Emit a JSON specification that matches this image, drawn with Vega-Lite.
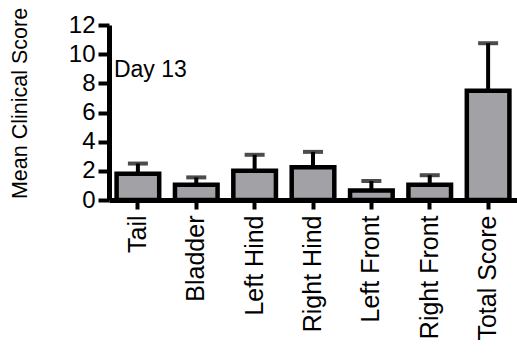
{
  "$schema": "https://vega.github.io/schema/vega-lite/v6.json",
  "autosize": "none",
  "width": 408,
  "height": 175,
  "padding": {"left": 109, "top": 25, "right": 0, "bottom": 156},
  "background": "white",
  "config": {
    "view": {"stroke": null},
    "font": "Liberation Sans",
    "axis": {"grid": false, "domainColor": "black", "domainWidth": 5, "tickColor": "black", "tickWidth": 4, "labelColor": "black", "titleColor": "black", "labelFont": "Liberation Sans", "titleFont": "Liberation Sans", "titleFontWeight": "normal"}
  },
  "data": {"values": [
    {"region": "Tail", "mean": 1.8, "upper": 2.5},
    {"region": "Bladder", "mean": 1.05, "upper": 1.55},
    {"region": "Left Hind", "mean": 2.0, "upper": 3.1},
    {"region": "Right Hind", "mean": 2.25, "upper": 3.3},
    {"region": "Left Front", "mean": 0.65, "upper": 1.3},
    {"region": "Right Front", "mean": 1.05, "upper": 1.7},
    {"region": "Total Score", "mean": 7.5, "upper": 10.75}
  ]},
  "encoding": {
    "x": {"field": "region", "type": "nominal", "sort": null,
      "scale": {"paddingInner": 0.27, "paddingOuter": 0.13},
      "axis": {"title": null, "labelAngle": -90, "labelFontSize": 25, "tickSize": 9, "domainWidth": 5, "labelPadding": 6, "labelAlign": "right", "labelBaseline": "middle"}},
    "y": {"field": "mean", "type": "quantitative",
      "scale": {"domain": [0, 12], "nice": false},
      "axis": {"title": "Mean Clinical Score", "values": [0, 2, 4, 6, 8, 10, 12], "labelOverlap": false, "labelFontSize": 24, "tickSize": 11, "domainWidth": 5, "labelPadding": 3, "titleFontSize": 21.5, "titleX": -89, "titleY": 78, "titleAngle": -90, "titleBaseline": "middle", "titleAlign": "center"}}
  },
  "layer": [
    {
      "mark": {"type": "rule", "color": "black", "strokeWidth": 4},
      "encoding": {
        "y2": {"field": "upper"}
      }
    },
    {
      "mark": {"type": "tick", "color": "black", "thickness": 4, "size": 20},
      "encoding": {
        "y": {"field": "upper", "type": "quantitative"}
      }
    },
    {
      "mark": {"type": "bar", "fill": "#a2a2a6", "stroke": "black", "strokeWidth": 4.5}
    },
    {
      "data": {"values": [{"label": "Day 13", "region": "Tail", "pos": 8.9}]},
      "mark": {"type": "text", "fontSize": 23, "fontWeight": "normal", "align": "left", "baseline": "middle", "dx": -24, "color": "black"},
      "encoding": {
        "text": {"field": "label"},
        "y": {"field": "pos", "type": "quantitative"}
      }
    }
  ]
}
